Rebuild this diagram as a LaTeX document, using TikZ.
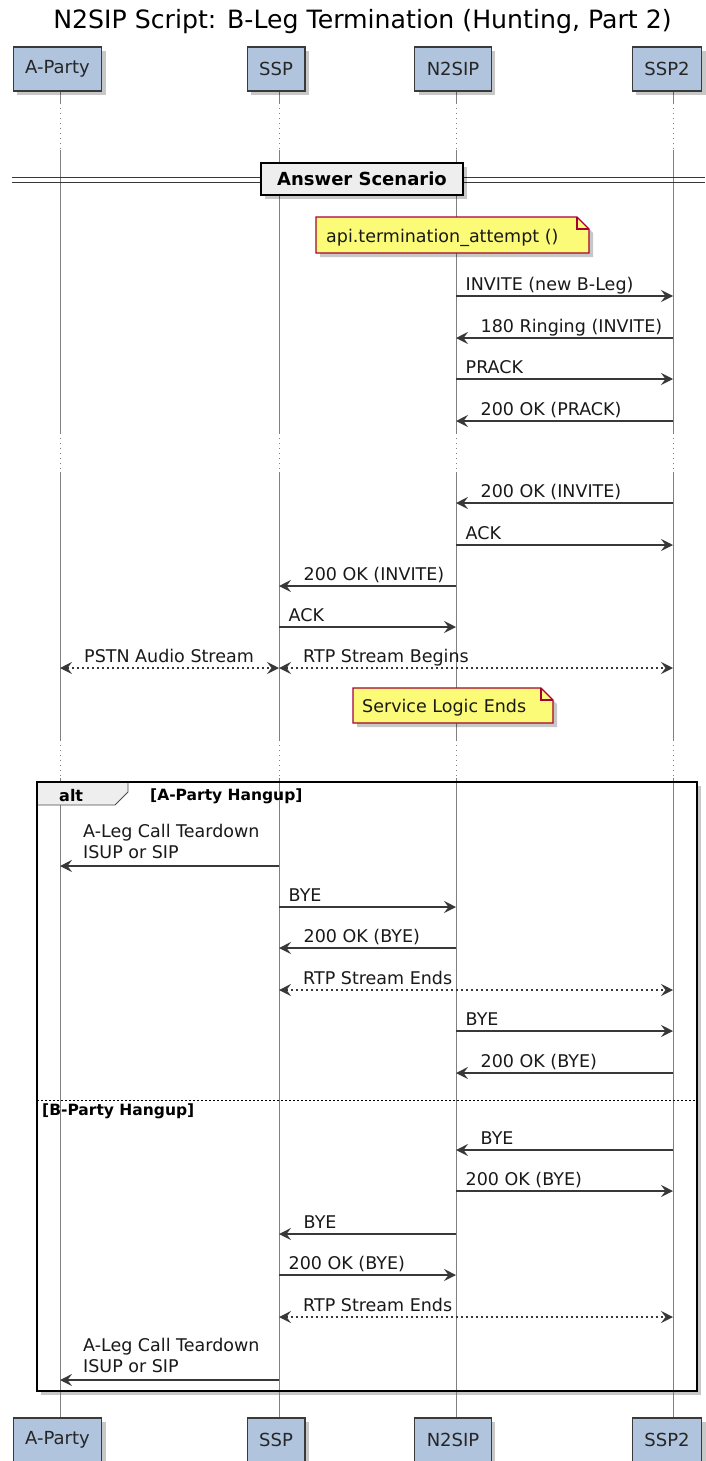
\documentclass[tikz,border=0pt]{standalone}
\usepackage{fontspec}
\setmainfont{DejaVu Sans}
\usetikzlibrary{arrows.meta,shadows,calc}
\definecolor{partfill}{HTML}{B0C4DE}
\definecolor{partdraw}{HTML}{3A3A3A}
\definecolor{notefill}{HTML}{FBFB77}
\definecolor{notedraw}{HTML}{A80036}
\definecolor{linecol}{HTML}{383838}
\definecolor{lifecol}{HTML}{808080}
\definecolor{grpfill}{HTML}{EEEEEE}
\tikzset{
  myshadow/.style={drop shadow={shadow xshift=4pt,shadow yshift=-4pt,opacity=0.22,fill=black}},
  part/.style={draw=partdraw,line width=1.3pt,fill=partfill,minimum height=44pt,inner xsep=12pt,inner ysep=0pt,font=\fontsize{18}{21}\selectfont,text=black!85,myshadow},
  life/.style={draw=lifecol,line width=1pt},
  lifedot/.style={draw=lifecol,line width=1pt,dash pattern=on 1pt off 4pt},
  tipA/.tip={Stealth[length=12pt,width=12pt,inset=4.5pt]},
  msg/.style={draw=linecol,line width=1.4pt,-tipA},
  dmsg/.style={draw=linecol,line width=1.4pt,dash pattern=on 2.5pt off 2.5pt,tipA-tipA},
  lbl/.style={font=\fontsize{17.5}{21}\selectfont,inner sep=0pt,anchor=base west,text=black!90},
  grplbl/.style={font=\bfseries\fontsize{15.5}{18}\selectfont,inner sep=0pt,anchor=base west},
  notebox/.style={fill=notefill,draw=notedraw,line width=1.2pt,line join=miter},
}
\newcommand\rmsg[5]{%
  \draw[msg] ([yshift=-#2pt]#3) -- ([yshift=-#2pt]#4);
  \node[lbl] (#1) at ([xshift=9.5pt,yshift=-#2pt+6pt]#3) {#5};}
\newcommand\lmsg[5]{%
  \draw[msg] ([yshift=-#2pt]#3) -- ([yshift=-#2pt]#4);
  \node[lbl] (#1) at ([xshift=24.5pt,yshift=-#2pt+6pt]#4) {#5};}
\newcommand\bmsg[5]{%
  \draw[dmsg] ([yshift=-#2pt]#3) -- ([yshift=-#2pt]#4);
  \node[lbl] (#1) at ([xshift=24pt,yshift=-#2pt+6pt]#3) {#5};}
\begin{document}
\begin{tikzpicture}[x=1pt,y=-1pt]
\useasboundingbox[fill=white] (0,0) rectangle (705,1461);
% title
\node[font=\fontsize{25.2}{29}\selectfont,inner sep=0pt] (title) at (362.5,22) {N2SIP Script: B-Leg Termination (Hunting, Part 2)};
% lifeline anchors
\coordinate (lA) at (60,0);
\coordinate (lS) at (279,0);
\coordinate (lN) at (456,0);
\coordinate (lT) at (673,0);
% alt frame background
\path[fill=white,myshadow] (37,782) rectangle (697,1391);
% lifelines
\foreach \n in {lA,lS,lN,lT}{
  \draw[life] ([yshift=-91pt]\n) -- ([yshift=-103pt]\n);
  \draw[lifedot] ([yshift=-103pt]\n) -- ([yshift=-150pt]\n);
  \draw[life] ([yshift=-150pt]\n) -- ([yshift=-433pt]\n);
  \draw[lifedot] ([yshift=-433pt]\n) -- ([yshift=-472pt]\n);
  \draw[life] ([yshift=-472pt]\n) -- ([yshift=-740pt]\n);
  \draw[lifedot] ([yshift=-740pt]\n) -- ([yshift=-778pt]\n);
  \draw[life] ([yshift=-778pt]\n) -- ([yshift=-1418pt]\n);
}
% divider
\draw[draw=linecol,line width=1.2pt] (12,177.5) -- (705,177.5) (12,182.5) -- (705,182.5);
\node[draw=black,line width=2pt,fill=grpfill,minimum width=202pt,minimum height=32pt,inner sep=0pt,font=\bfseries\fontsize{18}{21}\selectfont,myshadow] (divider) at (362,179) {Answer Scenario};
% note 1
\path[notebox,myshadow] (316,217) -- (577,217) -- (589,229) -- (589,253) -- (316,253) -- cycle;
\draw[notebox,fill=none] (577,217) -- (577,229) -- (589,229);
\node[lbl] (note1) at (326,242) {api.termination\_attempt ()};
% messages
\rmsg{m1}{296}{lN}{lT}{INVITE (new B-Leg)}
\lmsg{m2}{338}{lT}{lN}{180 Ringing (INVITE)}
\rmsg{m3}{379}{lN}{lT}{PRACK}
\lmsg{m4}{421}{lT}{lN}{200 OK (PRACK)}
\lmsg{m5}{503}{lT}{lN}{200 OK (INVITE)}
\rmsg{m6}{545}{lN}{lT}{ACK}
\lmsg{m7}{586}{lN}{lS}{200 OK (INVITE)}
\rmsg{m8}{627}{lS}{lN}{ACK}
\bmsg{m9}{668}{lA}{lS}{PSTN Audio Stream}
\bmsg{m10}{668}{lS}{lT}{RTP Stream Begins}
% note 2
\path[notebox,myshadow] (353,688) -- (541,688) -- (553,700) -- (553,723) -- (353,723) -- cycle;
\draw[notebox,fill=none] (541,688) -- (541,700) -- (553,700);
\node[lbl] (note2) at (362,712) {Service Logic Ends};
% alt frame content
\draw[msg] ([yshift=-866pt]lS) -- ([yshift=-866pt]lA);
\node[lbl] (m11a) at (83,837) {A-Leg Call Teardown};
\node[lbl] (m11b) at (83,858) {ISUP or SIP};
\rmsg{m12}{907}{lS}{lN}{BYE}
\lmsg{m13}{948}{lN}{lS}{200 OK (BYE)}
\bmsg{m14}{990}{lS}{lT}{RTP Stream Ends}
\rmsg{m15}{1031}{lN}{lT}{BYE}
\lmsg{m16}{1073}{lT}{lN}{200 OK (BYE)}
\draw[black,line width=1pt,dash pattern=on 2pt off 2pt] (37,1100) -- (697,1100);
\node[grplbl] (g2) at (42,1115) {[B-Party Hangup]};
\lmsg{m17}{1150}{lT}{lN}{BYE}
\rmsg{m18}{1191}{lN}{lT}{200 OK (BYE)}
\lmsg{m19}{1234}{lN}{lS}{BYE}
\rmsg{m20}{1275}{lS}{lN}{200 OK (BYE)}
\bmsg{m21}{1317}{lS}{lT}{RTP Stream Ends}
\draw[msg] ([yshift=-1380pt]lS) -- ([yshift=-1380pt]lA);
\node[lbl] (m22a) at (83,1351) {A-Leg Call Teardown};
\node[lbl] (m22b) at (83,1372) {ISUP or SIP};
% alt tab and border
\draw[fill=grpfill,draw=black!70,line width=0.8pt] (37,782) -- (128,782) -- (128,792) -- (115,805) -- (37,805) -- cycle;
\draw[black,line width=2.5pt] (37,782) rectangle (697,1391);
\node[font=\bfseries\fontsize{16}{19}\selectfont,inner sep=0pt,anchor=base west] (alt) at (59,801) {alt};
\node[grplbl] (g1) at (150,800) {[A-Party Hangup]};
% participants
\node[part] (pA) at (57.5,69) {A-Party};
\node[part] (pS) at (276,69) {SSP};
\node[part] (pN) at (453,69) {N2SIP};
\node[part] (pT) at (667,69) {SSP2};
\node[part] (bA) at (57.5,1440) {A-Party};
\node[part] (bS) at (276,1440) {SSP};
\node[part] (bN) at (453,1440) {N2SIP};
\node[part] (bT) at (667,1440) {SSP2};
\end{tikzpicture}
\end{document}
